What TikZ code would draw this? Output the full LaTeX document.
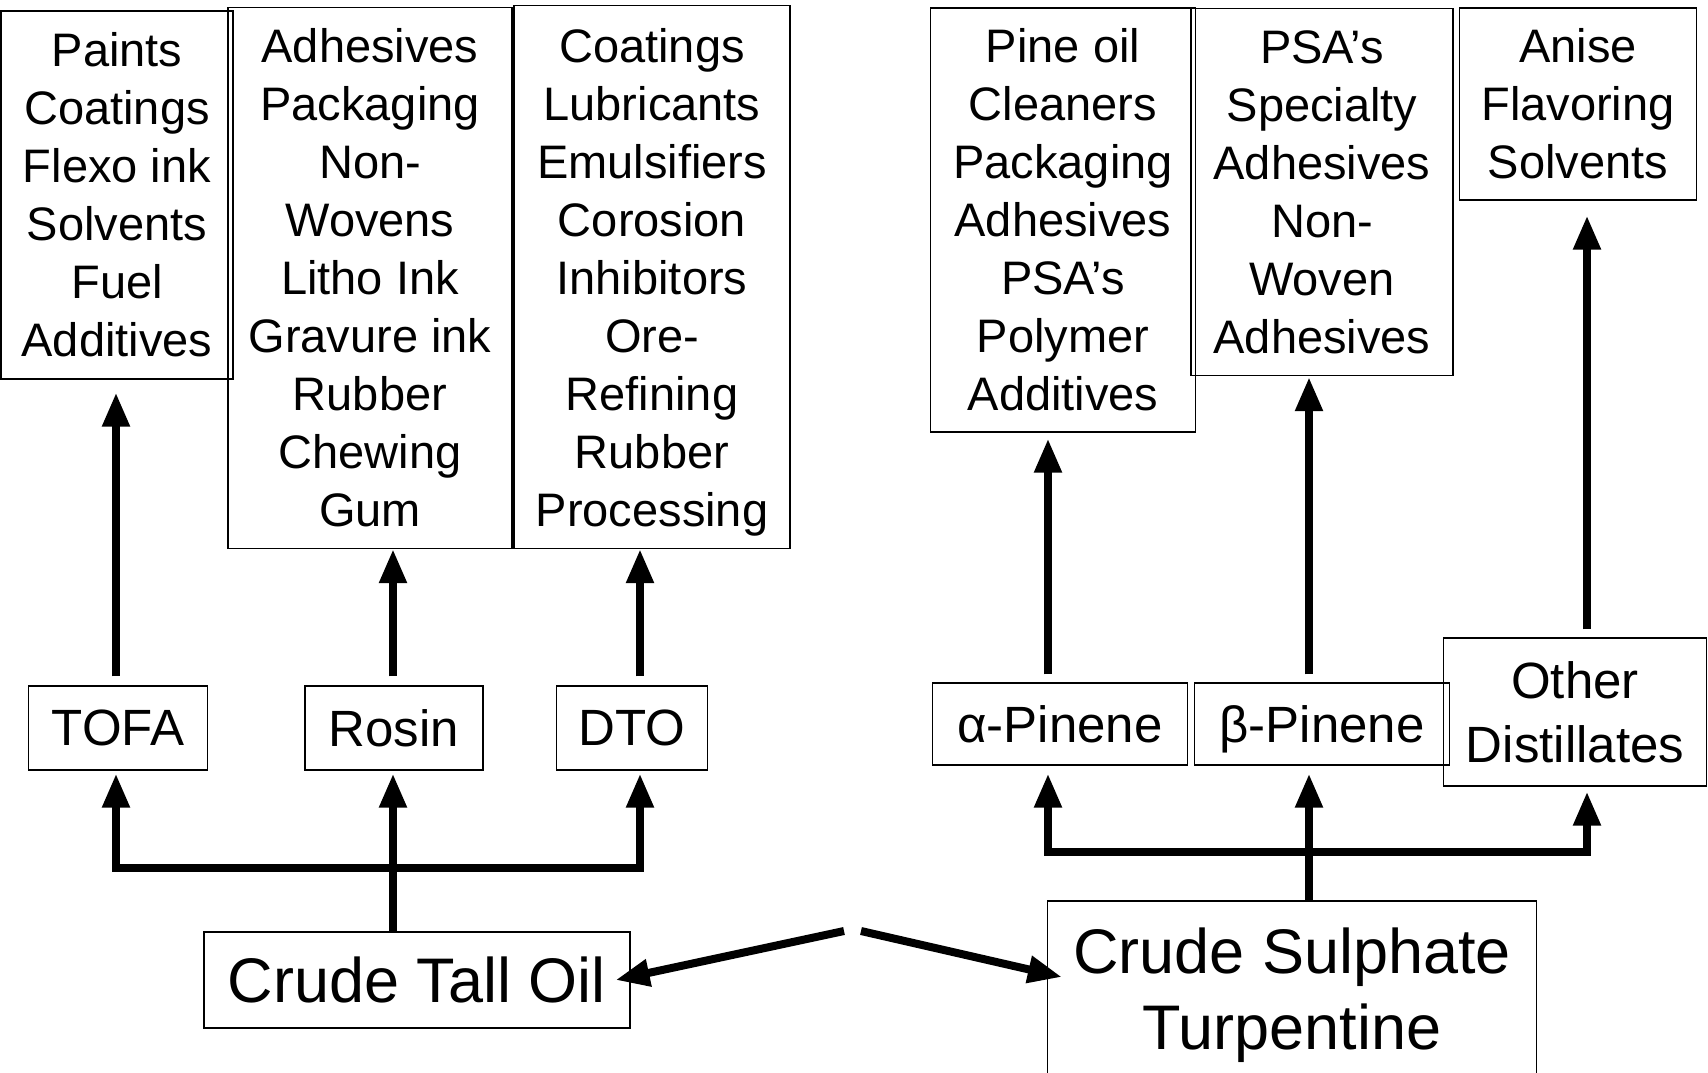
\documentclass[tikz,border=0pt]{standalone}
\usepackage{fontspec}
\setmainfont{Liberation Sans}
\usetikzlibrary{arrows.meta}
\tikzset{
	box/.style={draw, line width=1.2pt, inner sep=0pt, align=center},
	topbox/.style={box, font=\fontsize{47}{58}\selectfont},
	midbox/.style={box, font=\fontsize{51}{64}\selectfont},
	basebox/.style={box, font=\fontsize{63}{76}\selectfont},
	arr/.style={line width=8pt, -{Triangle[length=34pt,width=26pt]}},
	bar/.style={line width=8pt, line cap=rect},
}
\begin{document}
\begin{tikzpicture}[x=1pt,y=-1pt]
	\useasboundingbox (0,0) rectangle (1708,1072);
	
	% tall oil side
	\node[topbox, minimum width=232pt, minimum height=368pt] (paints) at (117,195) {Paints\\Coatings\\Flexo ink\\Solvents\\Fuel\\Additives};
	\node[topbox, minimum width=284pt, minimum height=541pt] (adhes) at (370,278) {Adhesives\\Packaging\\Non-\\Wovens\\Litho Ink\\Gravure ink\\Rubber\\Chewing\\Gum};
	\node[topbox, minimum width=276pt, minimum height=543pt] (coat) at (652,277) {Coatings\\Lubricants\\Emulsifiers\\Corosion\\Inhibitors\\Ore-\\Refining\\Rubber\\\raisebox{0pt}[\height][0pt]{Processing}};
	
	\node[midbox, minimum width=179pt, minimum height=84pt] (tofa) at (118,728) {TOFA};
	\node[midbox, minimum width=178pt, minimum height=84pt] (rosin) at (394,728) {Rosin};
	\node[midbox, minimum width=151pt, minimum height=84pt] (dto) at (632,728) {DTO};
	
	\node[basebox, minimum width=426pt, minimum height=96pt] (cto) at (417,980) {Crude Tall Oil};
	
	\coordinate (cl) at (116,868);
	\coordinate (cm) at (393,868);
	\coordinate (cr) at (640,868);
	\draw[bar] (cl) -- (cr);
	\draw[line width=8pt] (cto.north -| cm) -- (cm);
	\draw[arr, shorten >=3pt] (cl) -- (tofa.south -| cl);
	\draw[arr, shorten >=3pt] (cm) -- (rosin.south -| cm);
	\draw[arr, shorten >=3pt] (cr) -- (dto.south -| cr);
	\draw[arr, shorten <=9pt, shorten >=13pt] (tofa.north -| cl) -- (paints.south -| cl);
	\draw[arr, shorten <=9pt] (rosin.north -| cm) -- (adhes.south -| cm);
	\draw[arr, shorten <=9pt] (dto.north -| cr) -- (coat.south -| cr);
	
	% turpentine side
	\node[topbox, minimum width=265pt, minimum height=424pt] (pine) at (1063,220) {Pine oil\\Cleaners\\Packaging\\Adhesives\\PSA’s\\Polymer\\Additives};
	\node[topbox, minimum width=262pt, minimum height=367pt] (psa) at (1322,192) {PSA’s\\Specialty\\Adhesives\\Non-\\Woven\\Adhesives};
	\node[topbox, minimum width=237pt, minimum height=192pt] (anise) at (1578,104) {Anise\\Flavoring\\Solvents};
	
	\node[midbox, minimum width=255pt, minimum height=82pt] (alpha) at (1060,724) {α-Pinene};
	\node[midbox, minimum width=255pt, minimum height=82pt] (beta) at (1322,724) {\raisebox{0pt}[\height][0pt]{β}-Pinene};
	\node[midbox, minimum width=263pt, minimum height=148pt] (other) at (1575,712) {Other\\Distillates};
	
	\node[basebox, minimum width=489pt, minimum height=188pt] (cst) at (1292,995) {Crude Sulphate\\Turpentine};
	
	\coordinate (dl) at (1048,852);
	\coordinate (dm) at (1309,852);
	\coordinate (dr) at (1587,852);
	\draw[bar] (dl) -- (dr);
	\draw[line width=8pt] (cst.north -| dm) -- (dm);
	\draw[arr, shorten >=8pt] (dl) -- (alpha.south -| dl);
	\draw[arr, shorten >=8pt] (dm) -- (beta.south -| dm);
	\draw[arr, shorten >=5pt] (dr) -- (other.south -| dr);
	\draw[arr, shorten <=8pt, shorten >=6pt] (alpha.north -| dl) -- (pine.south -| dl);
	\draw[arr, shorten <=8pt, shorten >=1pt] (beta.north -| dm) -- (psa.south -| dm);
	\draw[arr, shorten <=8pt, shorten >=15pt] (other.north -| dr) -- (anise.south -| dr);
	
	% link between the two
	\coordinate (sl) at (844,931);
	\coordinate (sr) at (861,931);
	\draw[arr] (sl) -- ([xshift=-15pt]cto.east);
	\draw[arr] (sr) -- ([xshift=15pt,yshift=18pt]cst.west);
\end{tikzpicture}
\end{document}
